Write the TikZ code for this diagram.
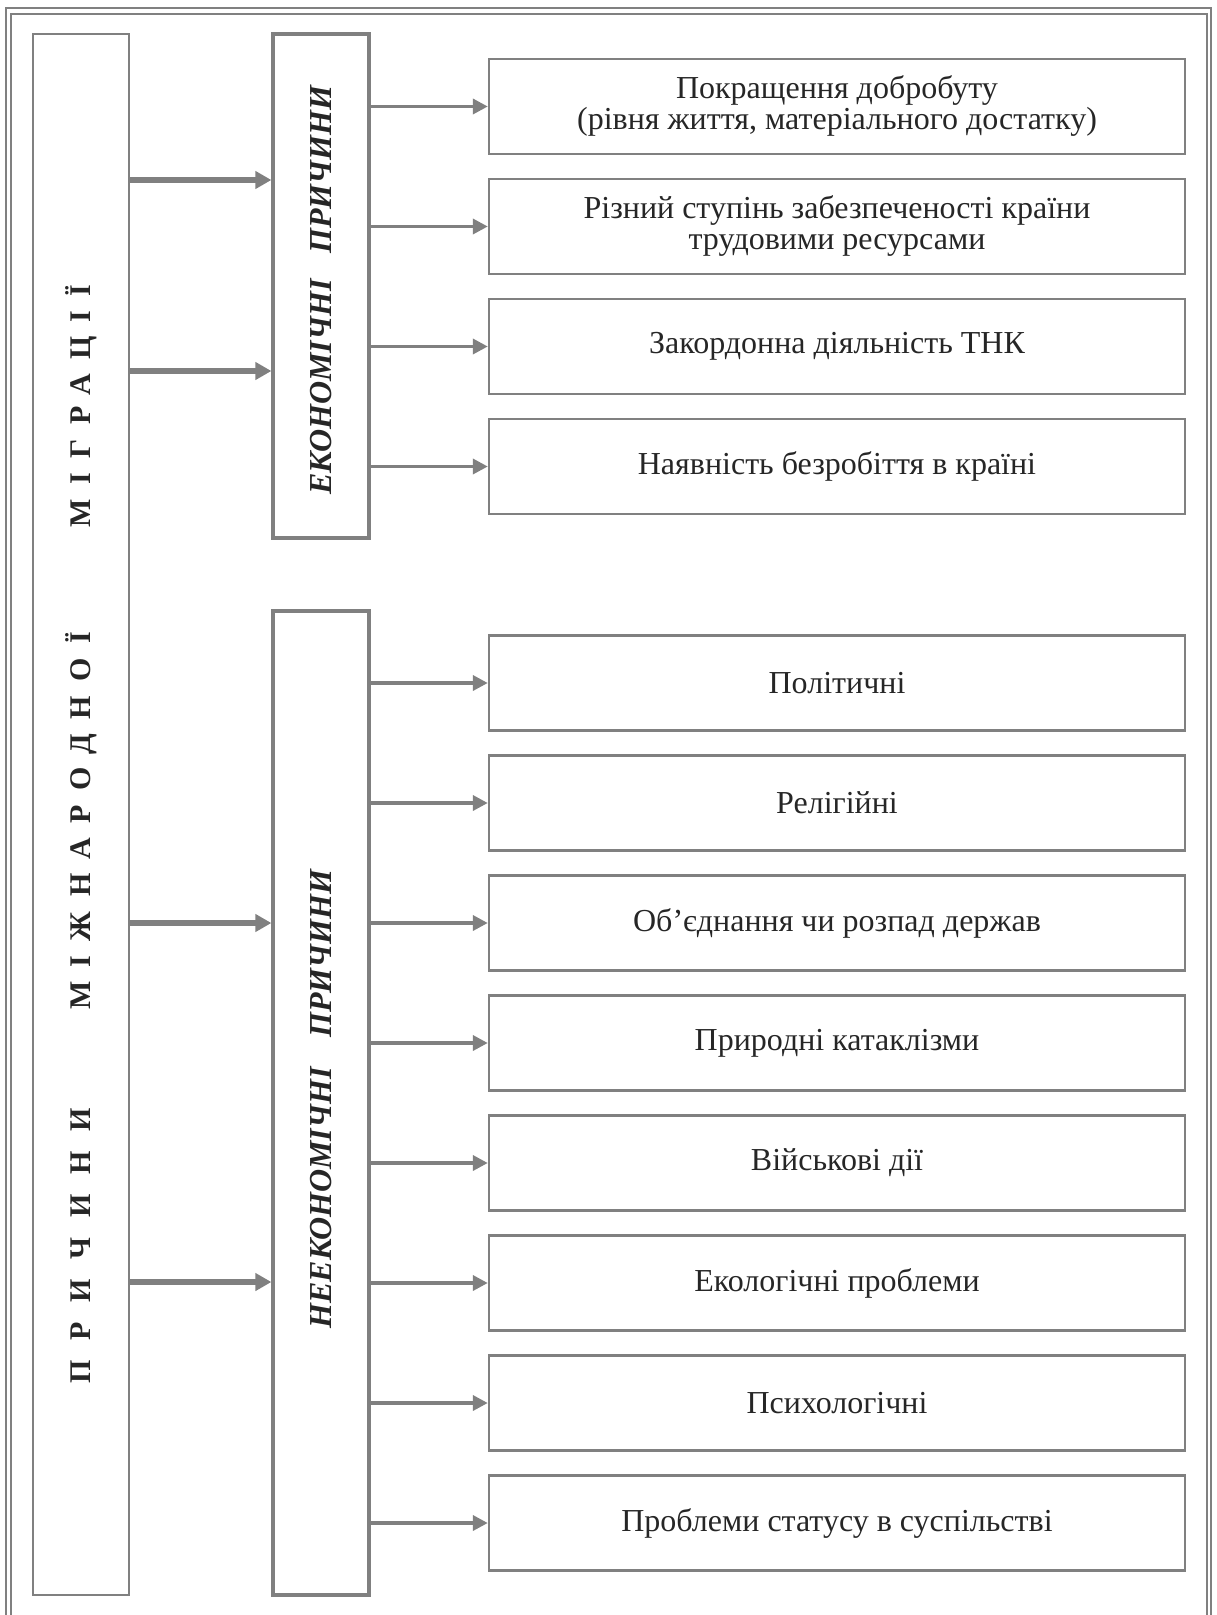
\documentclass[tikz,border=0pt]{standalone}
\usepackage{fontspec}
\setmainfont{Liberation Serif}
\newfontfamily\spacedfont[LetterSpace=48]{Liberation Serif}
\usetikzlibrary{arrows.meta}
\definecolor{linegray}{RGB}{128,128,128}

\begin{document}
\begin{tikzpicture}[x=0.5pt,y=-0.5pt,
    causebox/.style={draw=linegray, line width=1.2pt, minimum width=348pt,
        minimum height=47.5pt, inner sep=0pt, align=center, text=black!85,
        font=\fontsize{16}{15.5}\selectfont},
    groupbox/.style={draw=linegray, line width=1.6pt, minimum width=48pt, inner sep=0pt},
    grouptext/.style={rotate=90, text=black!85, font=\fontsize{16}{19}\selectfont\bfseries\itshape},
    bigarrow/.style={draw=linegray, line width=2.6pt, -{Triangle[length=8pt,width=8.5pt]}},
    smallarrow/.style={draw=linegray, line width=1.8pt, -{Triangle[length=7.5pt,width=7.5pt]}}]

    % Fix the size of the page
    \useasboundingbox (0,0) rectangle (1216,1615);

    % Draw the double frame (its bottom lies below the page)
    \draw[linegray, line width=1pt] (6,8) rectangle (1211,1650);
    \draw[linegray, line width=1pt] (11,14) rectangle (1207,1640);

    % Main box on the left
    \node[groupbox, line width=1pt, minimum height=780.5pt] (main) at (81,814.5) {};
    \node[rotate=90, text=black!85, font=\spacedfont\fontsize{15}{18}\selectfont\bfseries]
        (maintext) at (81,834)
        {{\addfontfeature{LetterSpace=66}ПРИЧИНИ}\hspace{49pt}МІЖНАРОДНОЇ\hspace{52.5pt}МІГРАЦІЇ};

    % Economic and non-economic group boxes
    \node[groupbox, minimum height=252pt] (econ) at (321,286) {};
    \node[grouptext] (econtext) at (321,290) {ЕКОНОМІЧНІ\hspace{13pt}ПРИЧИНИ};
    \node[groupbox, minimum height=492pt] (noneco) at (321,1103) {};
    \node[grouptext] (nonecotext) at (321,1099) {НЕЕКОНОМІЧНІ\hspace{15pt}ПРИЧИНИ};

    % Economic causes
    \node[causebox] (e1) at (837,106.5) {Покращення добробуту\\(рівня життя, матеріального достатку)};
    \node[causebox] (e2) at (837,226.5) {Різний ступінь забезпеченості країни\\трудовими ресурсами};
    \node[causebox] (e3) at (837,346.5) {Закордонна діяльність ТНК};
    \node[causebox] (e4) at (837,466.5) {Наявність безробіття в країні};

    % Non-economic causes
    \node[causebox] (n1) at (837,683) {Політичні};
    \node[causebox] (n2) at (837,803) {Релігійні};
    \node[causebox] (n3) at (837,923) {Об’єднання чи розпад держав};
    \node[causebox] (n4) at (837,1043) {Природні катаклізми};
    \node[causebox] (n5) at (837,1163) {Військові дії};
    \node[causebox] (n6) at (837,1283) {Екологічні проблеми};
    \node[causebox] (n7) at (837,1403) {Психологічні};
    \node[causebox] (n8) at (837,1523) {Проблеми статусу в суспільстві};

    % Heights of the arrows leaving the main box
    \coordinate (m1) at (0,180);
    \coordinate (m2) at (0,371);
    \coordinate (m3) at (0,923);
    \coordinate (m4) at (0,1282);

    % Arrows from the main box to the groups
    \draw[bigarrow] (main.east |- m1) -- (econ.west |- m1);
    \draw[bigarrow] (main.east |- m2) -- (econ.west |- m2);
    \draw[bigarrow] (main.east |- m3) -- (noneco.west |- m3);
    \draw[bigarrow] (main.east |- m4) -- (noneco.west |- m4);

    % Arrows from the groups to the causes
    \draw[smallarrow] (econ.east |- e1) -- (e1.west);
    \draw[smallarrow] (econ.east |- e2) -- (e2.west);
    \draw[smallarrow] (econ.east |- e3) -- (e3.west);
    \draw[smallarrow] (econ.east |- e4) -- (e4.west);
    \draw[smallarrow] (noneco.east |- n1) -- (n1.west);
    \draw[smallarrow] (noneco.east |- n2) -- (n2.west);
    \draw[smallarrow] (noneco.east |- n3) -- (n3.west);
    \draw[smallarrow] (noneco.east |- n4) -- (n4.west);
    \draw[smallarrow] (noneco.east |- n5) -- (n5.west);
    \draw[smallarrow] (noneco.east |- n6) -- (n6.west);
    \draw[smallarrow] (noneco.east |- n7) -- (n7.west);
    \draw[smallarrow] (noneco.east |- n8) -- (n8.west);

\end{tikzpicture}
\end{document}
